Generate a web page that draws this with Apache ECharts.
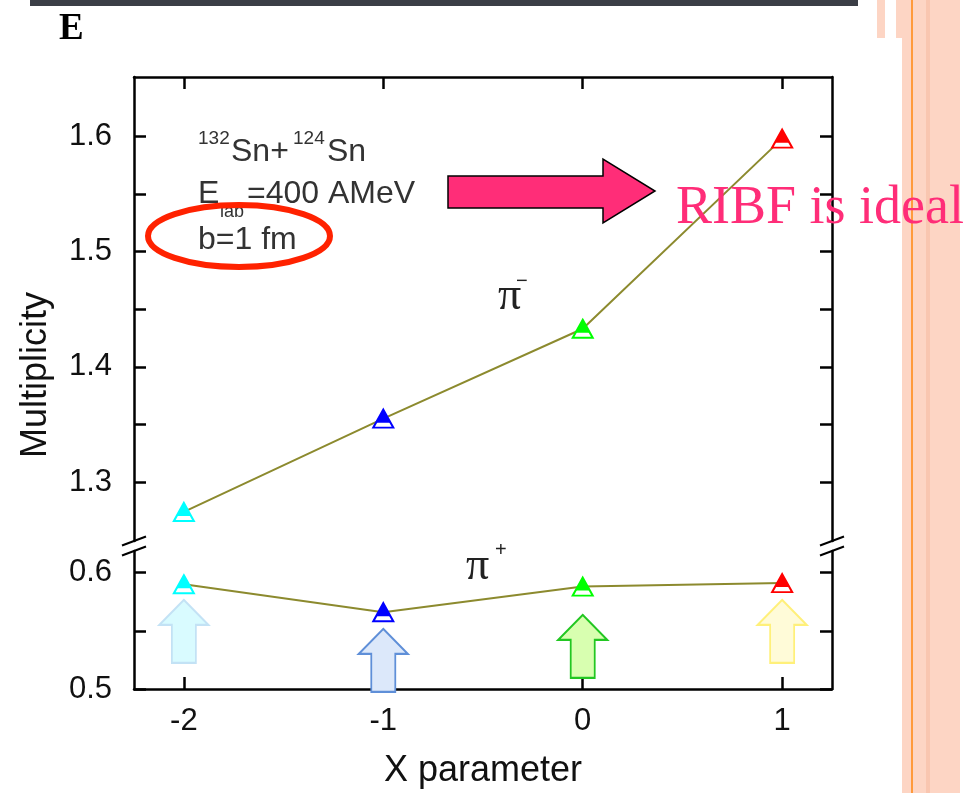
<!DOCTYPE html>
<html>
<head>
<meta charset="utf-8">
<script src="https://cdn.jsdelivr.net/npm/echarts@6/dist/echarts.min.js"></script>
<style>
  html, body { margin: 0; padding: 0; background: #ffffff; }
  #chart { width: 980px; height: 793px; }
</style>
</head>
<body>
<div id="chart"></div>
<script>
// Pion multiplicities versus the X parameter (132Sn + 124Sn, 400 AMeV, b = 1 fm)
const xValues = [-2, -1, 0, 1];
const piMinus = [1.274, 1.355, 1.433, 1.598];
const piPlus = [0.590, 0.566, 0.588, 0.591];
const pointColors = ['#00ffff', '#0000ff', '#00ff00', '#ff0000'];

const xTicks = [-2, -1, 0, 1];
const upperTicks = [1.3, 1.35, 1.4, 1.45, 1.5, 1.55, 1.6];
const upperLabels = [1.3, 1.4, 1.5, 1.6];
const lowerTicks = [0.5, 0.55, 0.6];
const lowerLabels = [0.5, 0.6];

// block arrows pointing up at the pi+ points (tip value on the lower axis)
const arrowTips = [0.5766, 0.5517, 0.5637, 0.5766];
const arrowFills = ['#d9fbff', '#dce8fa', '#d8ffb0', '#fffbd8'];
const arrowBorders = ['#c3e2f5', '#5f8fd8', '#22c722', '#fff07a'];

// plot frame layout (broken y axis: upper and lower panels)
const L = 134, R = 832, TOP = 77, UP_BOTTOM = 541, LOW_TOP = 551, BOTTOM = 689;
const SANS = '"Liberation Sans", Arial, sans-serif';
const SERIF = '"Liberation Serif", "Times New Roman", serif';
const AXIS_COLOR = '#000';
const LINE_COLOR = '#8c8a2e';

const chart = echarts.init(document.getElementById('chart'), null, { renderer: 'canvas' });

function xAxisCfg(grid, pos, showLabels) {
  return {
    type: 'value', gridIndex: grid, position: pos, min: -2.25, max: 1.25, z: 1,
    axisLine: { show: true, onZero: false, lineStyle: { color: AXIS_COLOR, width: 2.5 } },
    axisTick: { show: true, inside: true, length: 12, customValues: xTicks, lineStyle: { color: AXIS_COLOR, width: 2.5 } },
    axisLabel: {
      show: showLabels, customValues: xTicks, margin: 17,
      fontFamily: SANS, fontSize: 31, color: '#111'
    },
    splitLine: { show: false }
  };
}

function yAxisCfg(grid, pos, min, max, ticks, labels) {
  return {
    type: 'value', gridIndex: grid, position: pos, min: min, max: max, z: 1,
    axisLine: { show: true, onZero: false, lineStyle: { color: AXIS_COLOR, width: 2.5 } },
    axisTick: { show: true, inside: true, length: 12, customValues: ticks, lineStyle: { color: AXIS_COLOR, width: 2.5 } },
    axisLabel: {
      show: !!labels, customValues: labels || [], margin: 22,
      fontFamily: SANS, fontSize: 31, color: '#111',
      formatter: v => Number(v).toFixed(1)
    },
    splitLine: { show: false }
  };
}

function markerData(values) {
  return xValues.map((x, i) => ({
    value: [x, values[i]],
    itemStyle: { color: '#ffffff', borderColor: pointColors[i], borderWidth: 2, opacity: 1 }
  }));
}
function fillData(values) {
  return xValues.map((x, i) => ({
    value: [x, values[i]],
    itemStyle: { color: pointColors[i], opacity: 1 }
  }));
}

const arrowPath = 'path://M24.5,0 L49,25 L36.5,25 L36.5,63 L12.5,63 L12.5,25 L0,25 Z';
const triPath = 'path://M10,0 L20,18 L0,18 Z';

// small slanted double strokes marking the axis break
function breakMarks(x) {
  return [UP_BOTTOM, LOW_TOP].map(y => ({
    type: 'line', z: 50,
    shape: { x1: x - 12, y1: y + 4.5, x2: x + 12, y2: y - 4.5 },
    style: { stroke: '#000', lineWidth: 2 }
  }));
}

function txt(x, y, text, font, fill, extra) {
  return {
    type: 'text', z: 60,
    style: Object.assign({ x: x, y: y, text: text, font: font, fill: fill, textAlign: 'left', textVerticalAlign: 'middle' }, extra || {})
  };
}

const option = {
  animation: false,
  backgroundColor: '#ffffff',
  grid: [
    { left: L, width: R - L, top: TOP, height: UP_BOTTOM - TOP },
    { left: L, width: R - L, top: LOW_TOP, height: BOTTOM - LOW_TOP }
  ],
  xAxis: [
    xAxisCfg(0, 'top', false),
    Object.assign(xAxisCfg(1, 'bottom', true), {
      name: 'X parameter', nameLocation: 'middle', nameGap: 64,
      nameTextStyle: { fontFamily: SANS, fontSize: 36, color: '#111' }
    })
  ],
  yAxis: [
    yAxisCfg(0, 'left', 1.2488, 1.6515, upperTicks, upperLabels),
    yAxisCfg(0, 'right', 1.2488, 1.6515, upperTicks, null),
    yAxisCfg(1, 'left', 0.5, 0.6186, lowerTicks, lowerLabels),
    yAxisCfg(1, 'right', 0.5, 0.6186, lowerTicks, null)
  ],
  series: [
    {
      name: 'arrows', type: 'scatter', xAxisIndex: 1, yAxisIndex: 2, z: 20, clip: false, silent: true,
      symbol: arrowPath, symbolSize: [49, 63], symbolOffset: [0, '50%'],
      data: xValues.map((x, i) => ({
        value: [x, arrowTips[i]],
        itemStyle: { color: arrowFills[i], borderColor: arrowBorders[i], borderWidth: 2, opacity: 1 }
      }))
    },
    {
      name: 'π−', type: 'line', xAxisIndex: 0, yAxisIndex: 0, z: 21,
      symbol: triPath, symbolSize: [20, 18], showAllSymbol: true,
      lineStyle: { color: LINE_COLOR, width: 2 },
      data: markerData(piMinus)
    },
    {
      name: 'π− fill', type: 'scatter', xAxisIndex: 0, yAxisIndex: 0, z: 22, silent: true,
      symbol: triPath, symbolSize: [14.4, 13], symbolOffset: [0, -2.5],
      data: fillData(piMinus)
    },
    {
      name: 'π+', type: 'line', xAxisIndex: 1, yAxisIndex: 2, z: 21,
      symbol: triPath, symbolSize: [20, 18], showAllSymbol: true,
      lineStyle: { color: LINE_COLOR, width: 2 },
      data: markerData(piPlus)
    },
    {
      name: 'π+ fill', type: 'scatter', xAxisIndex: 1, yAxisIndex: 2, z: 22, silent: true,
      symbol: triPath, symbolSize: [14.4, 13], symbolOffset: [0, -2.5],
      data: fillData(piPlus)
    }
  ],
  graphic: [
    // slide decoration
    { type: 'rect', z: 0, shape: { x: 30, y: 0, width: 828, height: 6 }, style: { fill: '#3b3e46' } },
    { type: 'rect', z: 0, shape: { x: 877, y: 0, width: 8, height: 38 }, style: { fill: '#fdd5c4' } },
    { type: 'rect', z: 0, shape: { x: 896, y: 0, width: 64, height: 38 }, style: { fill: '#fdd5c4' } },
    { type: 'rect', z: 0, shape: { x: 902, y: 38, width: 58, height: 755 }, style: { fill: '#fdd5c4' } },
    { type: 'rect', z: 0, shape: { x: 926, y: 0, width: 4, height: 793 }, style: { fill: '#f9c6b0' } },
    { type: 'rect', z: 0, shape: { x: 911, y: 0, width: 2, height: 793 }, style: { fill: '#ff9a3c' } },
    txt(59, 29, 'E', 'bold 37px ' + SERIF, '#000'),

    // reaction annotation
    txt(198, 138.7, '132', '19px ' + SANS, '#333'),
    txt(231, 152, 'Sn+', '32px ' + SANS, '#333'),
    txt(293, 138.7, '124', '19px ' + SANS, '#333'),
    txt(327, 152, 'Sn', '32px ' + SANS, '#333'),
    txt(198, 193.8, 'E', '32px ' + SANS, '#333'),
    txt(220, 211.7, 'lab', '18px ' + SANS, '#333'),
    txt(247, 193.8, '=400 AMeV', '32px ' + SANS, '#333'),
    txt(198, 240.5, 'b=1 fm', '32px ' + SANS, '#333'),
    { type: 'ellipse', z: 61, shape: { cx: 239, cy: 236, rx: 91, ry: 31 }, style: { fill: 'none', stroke: '#ff2200', lineWidth: 6 } },

    // series labels
    txt(498, 297, 'π', '46px ' + SERIF, '#222'),
    txt(516, 281, '−', '20px ' + SANS, '#222'),
    txt(466, 567, 'π', '46px ' + SERIF, '#222'),
    txt(495, 550, '+', '20px ' + SANS, '#222'),

    // emphasis arrow and note
    {
      type: 'polygon', z: 62,
      shape: { points: [[448, 176], [603, 176], [603, 159], [655, 191], [603, 223], [603, 208], [448, 208]] },
      style: { fill: '#ff2d78', stroke: '#000', lineWidth: 1.5 }
    },
    txt(676, 209, 'RIBF is ideal', '54px ' + SERIF, '#ff2d78'),

    // y axis title
    {
      type: 'text', z: 60, x: 36, y: 375, rotation: Math.PI / 2,
      style: { x: 0, y: 0, text: 'Multiplicity', font: '36px ' + SANS, fill: '#111', textAlign: 'center', textVerticalAlign: 'middle' }
    }
  ].concat(breakMarks(L), breakMarks(R))
};

chart.setOption(option);
</script>
</body>
</html>
